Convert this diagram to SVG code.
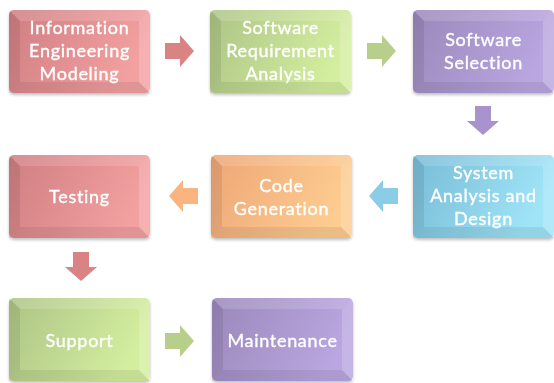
<svg xmlns="http://www.w3.org/2000/svg" xmlns:xlink="http://www.w3.org/1999/xlink" width="554" height="383" viewBox="0 0 554 383">
<defs>
<linearGradient id="gRed" x1="0" y1="0" x2="1" y2="0.3"><stop offset="0" stop-color="#cf7e82"/><stop offset="1" stop-color="#f3a0a0"/></linearGradient>
<linearGradient id="gGreen" x1="0" y1="0" x2="1" y2="0.3"><stop offset="0" stop-color="#adc485"/><stop offset="1" stop-color="#d4ee9f"/></linearGradient>
<linearGradient id="gPurple" x1="0" y1="0" x2="1" y2="0.3"><stop offset="0" stop-color="#9a88ba"/><stop offset="1" stop-color="#baa6e0"/></linearGradient>
<linearGradient id="gBlue" x1="0" y1="0" x2="1" y2="0.3"><stop offset="0" stop-color="#78bcd6"/><stop offset="1" stop-color="#a0e4f8"/></linearGradient>
<linearGradient id="gOrange" x1="0" y1="0" x2="1" y2="0.3"><stop offset="0" stop-color="#eea676"/><stop offset="1" stop-color="#fdcc90"/></linearGradient>
<g id="bevel">
<polygon points="0,0 141,0 130,11 11,11" fill="#fff" opacity="0.14"/>
<polygon points="0,0 11,11 11,72 0,83" fill="#000" opacity="0.08"/>
<polygon points="0,83 11,72 130,72 141,83" fill="#000" opacity="0.07"/>
<polygon points="141,0 141,83 130,72 130,11" fill="#fff" opacity="0.18"/>
</g>
<path id="arrowR" d="M0,8 H15 V0 L29,16 L15,32 V24 H0 Z"/>
<filter id="sh" x="-10%" y="-10%" width="120%" height="125%"><feGaussianBlur in="SourceAlpha" stdDeviation="1.5"/><feOffset dy="1.5"/><feComponentTransfer><feFuncA type="linear" slope="0.25"/></feComponentTransfer><feMerge><feMergeNode/><feMergeNode in="SourceGraphic"/></feMerge></filter>
</defs>
<style>
.box{stroke:none}
.red{fill:url(#gRed)}
.green{fill:url(#gGreen)}
.purple{fill:url(#gPurple)}
.blue{fill:url(#gBlue)}
.orange{fill:url(#gOrange)}
.lbl{font-family:Lato,"Open Sans","Liberation Sans",sans-serif;font-size:18px;letter-spacing:0.7px;fill:#fff;stroke:#fff;stroke-width:0.35;text-anchor:middle}
.aRed{fill:#d98385}
.aGreen{fill:#b8cf8b}
.aPurple{fill:#a893cf}
.aBlue{fill:#8bcde6}
.aOrange{fill:#f9b47f}
</style>
<g id="connectors">
<use xlink:href="#arrowR" class="aRed" transform="translate(165,35)"/>
<use xlink:href="#arrowR" class="aGreen" transform="translate(367,35)"/>
<use xlink:href="#arrowR" class="aPurple" transform="translate(499,106) rotate(90)"/>
<use xlink:href="#arrowR" class="aBlue" transform="translate(398,212) rotate(180)"/>
<use xlink:href="#arrowR" class="aOrange" transform="translate(198,212) rotate(180)"/>
<use xlink:href="#arrowR" class="aRed" transform="translate(97,252) rotate(90)"/>
<use xlink:href="#arrowR" class="aGreen" transform="translate(165,325)"/>
</g>
<g id="node-iem" filter="url(#sh)" transform="translate(9,10)">
<rect class="box red" width="141" height="83" rx="5"/><use xlink:href="#bevel"/>
<text class="lbl" x="70.5" y="24">Information</text>
<text class="lbl" x="70.5" y="47">Engineering</text>
<text class="lbl" x="70.5" y="70">Modeling</text>
</g>
<g id="node-sra" filter="url(#sh)" transform="translate(210,10)">
<rect class="box green" width="141" height="83" rx="5"/><use xlink:href="#bevel"/>
<text class="lbl" x="70.5" y="24">Software</text>
<text class="lbl" x="70.5" y="47">Requirement</text>
<text class="lbl" x="70.5" y="70">Analysis</text>
</g>
<g id="node-ss" filter="url(#sh)" transform="translate(413,10)">
<rect class="box purple" width="141" height="83" rx="5"/><use xlink:href="#bevel"/>
<text class="lbl" x="70.5" y="36">Software</text>
<text class="lbl" x="70.5" y="59">Selection</text>
</g>
<g id="node-sad" filter="url(#sh)" transform="translate(413,155)">
<rect class="box blue" width="141" height="83" rx="5"/><use xlink:href="#bevel"/>
<text class="lbl" x="70.5" y="24">System</text>
<text class="lbl" x="70.5" y="47">Analysis and</text>
<text class="lbl" x="70.5" y="70">Design</text>
</g>
<g id="node-cg" filter="url(#sh)" transform="translate(211,155)">
<rect class="box orange" width="141" height="83" rx="5"/><use xlink:href="#bevel"/>
<text class="lbl" x="70.5" y="37">Code</text>
<text class="lbl" x="70.5" y="60">Generation</text>
</g>
<g id="node-testing" filter="url(#sh)" transform="translate(9,155)">
<rect class="box red" width="141" height="83" rx="5"/><use xlink:href="#bevel"/>
<text class="lbl" x="70.5" y="48">Testing</text>
</g>
<g id="node-support" filter="url(#sh)" transform="translate(9,298)">
<rect class="box green" width="141" height="83" rx="5"/><use xlink:href="#bevel"/>
<text class="lbl" x="70.5" y="49">Support</text>
</g>
<g id="node-maint" filter="url(#sh)" transform="translate(212,298)">
<rect class="box purple" width="141" height="83" rx="5"/><use xlink:href="#bevel"/>
<text class="lbl" x="70.5" y="49">Maintenance</text>
</g>
</svg>
